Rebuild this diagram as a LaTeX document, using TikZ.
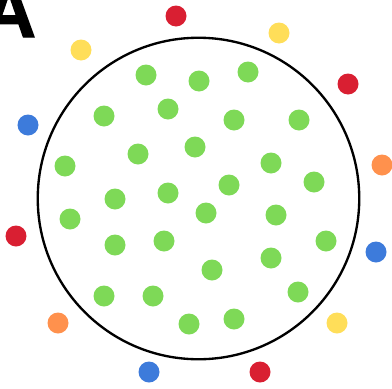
\documentclass[tikz,border=0pt]{standalone}
\usepackage{fontspec}
\newfontfamily\panelfont[FakeBold=1.6]{Liberation Sans Bold}
\definecolor{dotgreen}{HTML}{7ED957}
\definecolor{dotred}{HTML}{D91F32}
\definecolor{dotyellow}{HTML}{FFDE59}
\definecolor{dotblue}{HTML}{3D7BDB}
\definecolor{dotorange}{HTML}{FF914D}

\begin{document}
\begin{tikzpicture}[
  x=0.03cm, y=-0.03cm,
  dot/.style={circle, inner sep=0pt, minimum size=0.63cm},
  inside/.style={dot, fill=dotgreen},
  outside/.style={dot, fill=#1},
  cell/.style={draw, circle, line width=2pt, inner sep=0pt, minimum size=9.645cm}
]
\useasboundingbox (0,0) rectangle (392,388);
\clip (0,0) rectangle (392,388);

\node[font=\panelfont\fontsize{64}{64}\selectfont, anchor=base, inner sep=0pt] (label) at (9,37) {A};

\node[cell] (boundary) at (198.5,198.5) {};

% green dots inside the boundary
\node[inside] (g1) at (146,75) {};
\node[inside] (g2) at (199,81) {};
\node[inside] (g3) at (248,72) {};
\node[inside] (g4) at (104,116) {};
\node[inside] (g5) at (168,109) {};
\node[inside] (g6) at (234,120) {};
\node[inside] (g7) at (299,120) {};
\node[inside] (g8) at (65,166) {};
\node[inside] (g9) at (138,154) {};
\node[inside] (g10) at (195,147) {};
\node[inside] (g11) at (271,163) {};
\node[inside] (g12) at (314,182) {};
\node[inside] (g13) at (229,185) {};
\node[inside] (g14) at (168,193) {};
\node[inside] (g15) at (115,199) {};
\node[inside] (g16) at (70,219) {};
\node[inside] (g17) at (206,213) {};
\node[inside] (g18) at (276,215) {};
\node[inside] (g19) at (326,241) {};
\node[inside] (g20) at (115,245) {};
\node[inside] (g21) at (164,241) {};
\node[inside] (g22) at (212,270) {};
\node[inside] (g23) at (271,258) {};
\node[inside] (g24) at (104,296) {};
\node[inside] (g25) at (153,296) {};
\node[inside] (g26) at (298,292) {};
\node[inside] (g27) at (189,324) {};
\node[inside] (g28) at (234,319) {};

% coloured dots around the boundary
\node[outside=dotred] (o1) at (176,16) {};
\node[outside=dotyellow] (o2) at (279,33) {};
\node[outside=dotyellow] (o3) at (81,50) {};
\node[outside=dotred] (o4) at (348,84) {};
\node[outside=dotblue] (o5) at (28,125) {};
\node[outside=dotorange] (o6) at (382,165) {};
\node[outside=dotred] (o7) at (16,236) {};
\node[outside=dotblue] (o8) at (376,252) {};
\node[outside=dotorange] (o9) at (58,323) {};
\node[outside=dotyellow] (o10) at (337,323) {};
\node[outside=dotblue] (o11) at (149,372) {};
\node[outside=dotred] (o12) at (260,372) {};

\end{tikzpicture}
\end{document}
